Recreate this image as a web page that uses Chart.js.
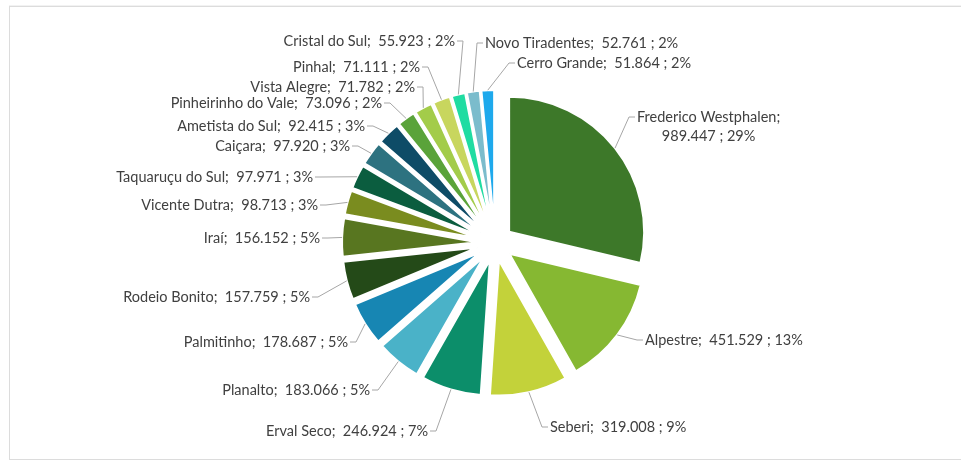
<!DOCTYPE html>
<html>
<head>
<meta charset="utf-8" />
<title>Municípios</title>
<script src="https://cdn.jsdelivr.net/npm/chart.js"></script>
<style>
  html, body { margin: 0; padding: 0; background: #fff; overflow: hidden; }
  .moldura { position: absolute; left: 9px; top: 6px; width: 960px; height: 452px; border: 1px solid #dcdcdc; border-right: none; box-shadow: 0 -1px 0 #f2f2f2; }
  .grafico { position: absolute; left: 0; top: 0; width: 961px; height: 460px; }
</style>
</head>
<body>
<div class="moldura"></div>
<div class="grafico"><canvas id="pizza"></canvas></div>
<script>
const municipios = [
  'Frederico Westphalen', 'Alpestre', 'Seberi', 'Erval Seco', 'Planalto', 'Palmitinho',
  'Rodeio Bonito', 'Iraí', 'Vicente Dutra', 'Taquaruçu do Sul', 'Caiçara', 'Ametista do Sul',
  'Pinheirinho do Vale', 'Vista Alegre', 'Pinhal', 'Cristal do Sul', 'Novo Tiradentes', 'Cerro Grande'
];
const valores = [
  989447, 451529, 319008, 246924, 183066, 178687,
  157759, 156152, 98713, 97971, 97920, 92415,
  73096, 71782, 71111, 55923, 52761, 51864
];
const cores = [
  '#3d7829', '#86b832', '#c3d23a', '#0c8e6a', '#4ab2c8', '#1786b3',
  '#244a18', '#587620', '#7a8c1f', '#0b5d3f', '#2d7280', '#0e4c67',
  '#5aa33a', '#a3cc4a', '#c8d65e', '#20dca2', '#7bbccc', '#1ea9ec'
];

// rótulos: deslocamento do texto a partir do centro da pizza, lado do texto, quebra de linha
const rotulos = [
  [142, -126, 'dir', true],
  [150, 97, 'dir'],
  [55, 184, 'dir'],
  [-67, 188, 'esq'],
  [-125, 147, 'esq'],
  [-147, 99, 'esq'],
  [-185, 54, 'esq'],
  [-175, -5, 'esq'],
  [-177, -38, 'esq'],
  [-182, -66, 'esq'],
  [-145, -97, 'esq'],
  [-130, -117, 'esq'],
  [-113, -140, 'esq'],
  [-80, -156, 'esq'],
  [-75, -176, 'esq'],
  [-40, -202, 'esq'],
  [-10, -200, 'dir'],
  [22, -180, 'dir']
];

const AFASTAMENTO = 18;

function milhar(v) {
  return String(v).replace(/\B(?=(\d{3})+(?!\d))/g, '.');
}

// afasta cada fatia do centro ao longo da sua bissetriz
const explodir = {
  id: 'explodir',
  afterDatasetUpdate(chart, args) {
    args.meta.data.forEach(arc => {
      const a = (arc.startAngle + arc.endAngle) / 2;
      arc.x += Math.cos(a) * AFASTAMENTO;
      arc.y += Math.sin(a) * AFASTAMENTO;
    });
  }
};

// linhas de chamada e textos das fatias
const rotular = {
  id: 'rotular',
  afterDatasetsDraw(chart) {
    const ctx = chart.ctx;
    const area = chart.chartArea;
    const cx = (area.left + area.right) / 2;
    const cy = (area.top + area.bottom) / 2;
    const total = valores.reduce((s, v) => s + v, 0);
    ctx.save();
    ctx.font = '14.5px Lato';
    ctx.textBaseline = 'middle';
    chart.getDatasetMeta(0).data.forEach((arc, i) => {
      const [dx, dy, lado, quebra] = rotulos[i];
      const a = (arc.startAngle + arc.endAngle) / 2;
      const px = arc.x + Math.cos(a) * arc.outerRadius;
      const py = arc.y + Math.sin(a) * arc.outerRadius;
      const tx = cx + dx;
      const ty = cy + dy;
      const s = lado === 'dir' ? 1 : -1;

      ctx.strokeStyle = '#a6a6a6';
      ctx.lineWidth = 1;
      ctx.beginPath();
      ctx.moveTo(px, py);
      ctx.lineTo(tx - s * 8, ty);
      ctx.lineTo(tx - s * 2, ty);
      ctx.stroke();

      const pct = Math.round(valores[i] * 100 / total) + '%';
      ctx.fillStyle = '#404040';
      if (quebra) {
        const l1 = municipios[i] + ';';
        const l2 = milhar(valores[i]) + ' ; ' + pct;
        const w1 = ctx.measureText(l1).width;
        ctx.textAlign = 'left';
        ctx.fillText(l1, tx, ty);
        ctx.textAlign = 'center';
        ctx.fillText(l2, tx + w1 / 2, ty + 19);
      } else {
        ctx.textAlign = s > 0 ? 'left' : 'right';
        ctx.fillText(municipios[i] + ';  ' + milhar(valores[i]) + ' ; ' + pct, tx, ty);
      }
    });
    ctx.restore();
  }
};

new Chart(document.getElementById('pizza'), {
  type: 'pie',
  data: {
    labels: municipios,
    datasets: [{
      data: valores,
      backgroundColor: cores,
      borderColor: '#ffffff',
      borderWidth: 2
    }]
  },
  options: {
    responsive: true,
    maintainAspectRatio: false,
    animation: false,
    events: [],
    radius: 135,
    layout: { padding: { left: 29, right: 0, top: 30, bottom: 4 } },
    plugins: {
      legend: { display: false },
      tooltip: { enabled: false }
    }
  },
  plugins: [explodir, rotular]
});
</script>
</body>
</html>
